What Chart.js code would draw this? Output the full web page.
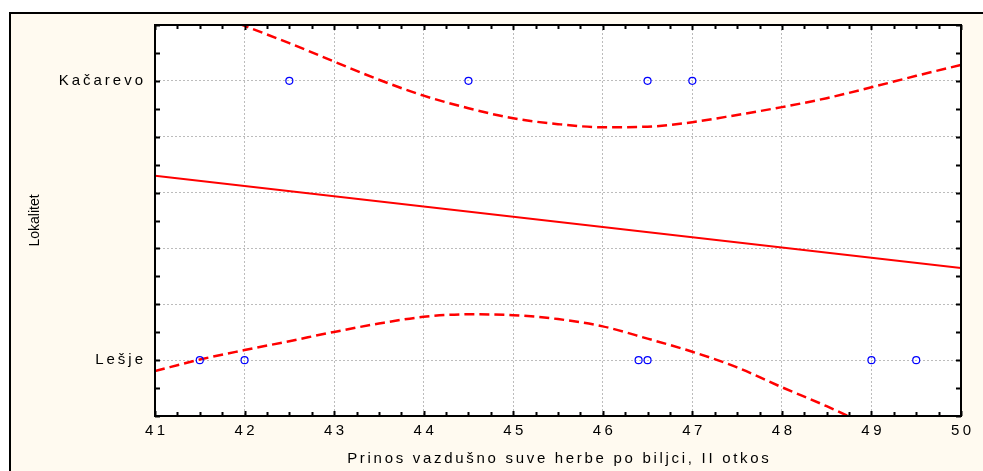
<!DOCTYPE html>
<html>
<head>
<meta charset="utf-8">
<script src="https://cdn.jsdelivr.net/npm/chart.js@4"></script>
<style>
html,body{margin:0;padding:0;background:#ffffff;}
canvas{display:block;}
</style>
</head>
<body>
<canvas id="c" width="983" height="471"></canvas>
<script>
// ---------- data ----------
const xTickValues = [41, 42, 43, 44, 45, 46, 47, 48, 49, 50];
const yCategories = ['Lešje', 'Kačarevo'];          // coded 0 and 1 on the y axis
const kacarevoX = [42.5, 44.5, 46.5, 47];
const lesjeX = [41.5, 42, 46.4, 46.5, 49, 49.5];
const fitX = [41, 50];
const fitY = [0.66, 0.33];
const bandX = [41, 41.5, 42, 42.5, 43, 43.5, 44, 44.5, 45, 45.5, 46, 46.5, 47, 47.5, 48, 48.5, 49, 49.5, 50];
const upperBand = [1.32, 1.26, 1.197, 1.135, 1.069, 1.004, 0.947, 0.902, 0.866, 0.845, 0.834, 0.836, 0.852, 0.878, 0.906, 0.938, 0.977, 1.018, 1.057];
const lowerBand = [-0.039, 0.002, 0.036, 0.068, 0.101, 0.131, 0.155, 0.164, 0.161, 0.147, 0.121, 0.077, 0.03, -0.026, -0.097, -0.165, -0.24, -0.32, -0.40];
const xTitle = 'Prinos vazdušno suve herbe po biljci, II otkos';
const yTitle = 'Lokalitet';

// ---------- build ----------
const pts = (xs, ys) => xs.map((x, i) => ({x: x, y: ys[i]}));
const catPts = (xs, code) => xs.map(x => ({x: x, y: code}));

function withSpacing(fn, sp, dx) {
  return function(...a) {
    const c = this.ctx;
    c.save();
    c.letterSpacing = sp;
    if (dx) c.translate(dx, 0);
    try { return fn.apply(this, a); } finally { c.restore(); }
  };
}

const framePlugin = {
  id: 'frame',
  beforeDraw(chart) {
    const ctx = chart.ctx, a = chart.chartArea;
    const W = chart.width, H = chart.height;
    ctx.save();
    ctx.fillStyle = '#ffffff';
    ctx.fillRect(0, 0, W, H);
    ctx.fillStyle = '#fffaf0';
    ctx.fillRect(9, 12, W - 9, H - 12);
    ctx.strokeStyle = '#000000';
    ctx.lineWidth = 2;
    ctx.beginPath();
    ctx.moveTo(10, H); ctx.lineTo(10, 13); ctx.lineTo(W, 13);
    ctx.stroke();
    ctx.fillStyle = '#ffffff';
    ctx.fillRect(a.left, a.top, a.right - a.left, a.bottom - a.top);
    ctx.restore();
    const {x, y} = chart.scales;
    if (!x._sp) { x.drawLabels = withSpacing(x.drawLabels, '3.5px', 1.75); x.drawTitle = withSpacing(x.drawTitle, '2.7px', 1.35); x._sp = true; }
    if (!y._sp) { y.drawLabels = withSpacing(y.drawLabels, '3px', 0); y._sp = true; }
  },
  afterDraw(chart) {
    const ctx = chart.ctx, a = chart.chartArea;
    const xs = chart.scales.x, ys = chart.scales.y;
    ctx.save();
    ctx.strokeStyle = '#000000';
    ctx.lineWidth = 2;
    ctx.beginPath();
    // inward minor/major ticks on x (top and bottom)
    for (let v = xs.min; v <= xs.max + 1e-9; v += 0.25) {
      const p = Math.round(xs.getPixelForValue(v)) + 0.5;
      const L = Math.abs(v - Math.round(v)) < 1e-9 ? 5 : 4;
      ctx.moveTo(p, a.bottom); ctx.lineTo(p, a.bottom - L);
      ctx.moveTo(p, a.top); ctx.lineTo(p, a.top + L);
    }
    // inward ticks on y (left and right)
    for (let v = ys.min; v <= ys.max + 1e-9; v += 0.1) {
      const p = Math.round(ys.getPixelForValue(v)) + 0.5;
      ctx.moveTo(a.left, p); ctx.lineTo(a.left + 5, p);
      ctx.moveTo(a.right, p); ctx.lineTo(a.right - 5, p);
    }
    ctx.stroke();
    ctx.strokeRect(a.left, a.top, a.right - a.left, a.bottom - a.top);
    ctx.restore();
  }
};

const FONT = "'Liberation Sans', Arial, sans-serif";

new Chart(document.getElementById('c'), {
  type: 'scatter',
  data: {
    datasets: [
      { label: 'Kačarevo', data: catPts(kacarevoX, 1), pointStyle: 'circle', pointRadius: 3.5, pointHoverRadius: 3.5,
        borderColor: '#0000ff', backgroundColor: 'rgba(0,0,0,0)', pointBorderWidth: 1.2, showLine: false },
      { label: 'Lešje', data: catPts(lesjeX, 0), pointStyle: 'circle', pointRadius: 3.5, pointHoverRadius: 3.5,
        borderColor: '#0000ff', backgroundColor: 'rgba(0,0,0,0)', pointBorderWidth: 1.2, showLine: false },
      { label: 'fit', data: pts(fitX, fitY), showLine: true, pointRadius: 0, borderColor: '#ff0000', borderWidth: 2, fill: false },
      { label: 'upper', data: pts(bandX, upperBand), showLine: true, pointRadius: 0, borderColor: '#ff0000', borderWidth: 2.5,
        borderDash: [10, 5], cubicInterpolationMode: 'monotone', fill: false },
      { label: 'lower', data: pts(bandX, lowerBand), showLine: true, pointRadius: 0, borderColor: '#ff0000', borderWidth: 2.5,
        borderDash: [10, 5], cubicInterpolationMode: 'monotone', fill: false }
    ]
  },
  options: {
    responsive: false,
    animation: false,
    devicePixelRatio: 1,
    layout: { padding: { left: 22, top: 25, right: 22, bottom: 0 } },
    plugins: { legend: { display: false }, tooltip: { enabled: false } },
    scales: {
      x: {
        type: 'linear', min: 41, max: 50,
        afterBuildTicks: s => { s.ticks = xTickValues.map(v => ({value: v})); },
        afterFit: s => { s.height = 55; },
        ticks: { color: '#000000', font: { family: FONT, size: 15 }, padding: 6, maxRotation: 0, autoSkip: false },
        grid: { color: '#bcbcbc', lineWidth: 1, drawTicks: false },
        border: { display: false, dash: [2, 2] },
        title: { display: true, text: xTitle, color: '#000000', font: { family: FONT, size: 15 }, padding: { top: 0, bottom: 3 } }
      },
      y: {
        type: 'linear', min: -0.2, max: 1.2,
        ticks: { stepSize: 0.2, color: '#000000', font: { family: FONT, size: 15 }, padding: 9,
          callback: v => { const i = yCategories.findIndex((c, k) => Math.abs(v - k) < 1e-6); return i >= 0 ? yCategories[i] : ''; } },
        afterFit: s => { s.width = 133; },
        grid: { color: '#bcbcbc', lineWidth: 1, drawTicks: false },
        border: { display: false, dash: [2, 2] },
        title: { display: true, text: yTitle, color: '#000000', font: { family: FONT, size: 14 }, padding: { top: 5, bottom: 0 } }
      }
    }
  },
  plugins: [framePlugin]
});
</script>
</body>
</html>
